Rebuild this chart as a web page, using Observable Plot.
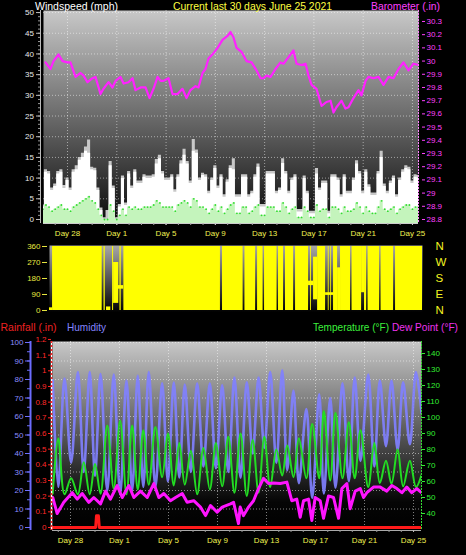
<!DOCTYPE html>
<html><head><meta charset="utf-8">
<script src="https://cdn.jsdelivr.net/npm/d3@7"></script>
<script src="https://cdn.jsdelivr.net/npm/@observablehq/plot@0.6"></script>
<style>
html,body{margin:0;padding:0;background:#000;}
#root{position:relative;width:466px;height:555px;background:#000;overflow:hidden;}
</style></head><body>
<div id="root">
<svg width="0" height="0" style="position:absolute;left:0;top:0"><defs>
<linearGradient id="g1" x1="0" y1="0" x2="0" y2="1"><stop offset="0" stop-color="#c8c8c8"/><stop offset="0.5" stop-color="#6a6a6a"/><stop offset="1" stop-color="#0a0a0a"/></linearGradient>
<linearGradient id="g2" x1="0" y1="0" x2="0" y2="1"><stop offset="0" stop-color="#a8a8a8"/><stop offset="1" stop-color="#000"/></linearGradient>
<linearGradient id="g3" x1="0" y1="0" x2="0" y2="1"><stop offset="0" stop-color="#c8c8c8"/><stop offset="0.45" stop-color="#606060"/><stop offset="0.85" stop-color="#050505"/><stop offset="1" stop-color="#000"/></linearGradient>
</defs></svg>
</div>
<script>
// ---------- data ----------
// time unit: days since May 26 2021 00:00
const DAY_TICKS = [2, 6, 10, 14, 18, 22, 26, 30];
const DAY_LABELS = ["Day 28", "Day 1", "Day 5", "Day 9", "Day 13", "Day 17", "Day 21", "Day 25"];
const WIND_TICKS = [0, 5, 10, 15, 20, 25, 30, 35, 40, 45, 50];
const BARO_TICKS = [28.8, 28.9, 29.0, 29.1, 29.2, 29.3, 29.4, 29.5, 29.6, 29.7, 29.8, 29.9, 30.0, 30.1, 30.2, 30.3];
const DIR_TICKS = [0, 90, 180, 270, 360];
const COMPASS = ["N", "E", "S", "W", "N"];
const HUM_TICKS = [0, 10, 20, 30, 40, 50, 60, 70, 80, 90, 100];
const RAIN_TICKS = [0, 0.1, 0.2, 0.3, 0.4, 0.5, 0.6, 0.7, 0.8, 0.9, 1.0, 1.1, 1.2];
const TEMP_TICKS = [40, 50, 60, 70, 80, 90, 100, 110, 120, 130, 140];

// wind, 6-hourly samples starting May 26 00:00
const WIND_START = 0, WIND_STEP = 0.25;
const windSpeed = [
 3, 11.4, 11, 7, 8, 11, 11.4, 7.5, 9.4, 7,
 11.4, 12, 14.3, 15, 16.5, 16, 12, 11.8, 7, 2.2,
 0, 0, 13, 7.5, 0, 3, 9.9, 3.4, 11, 7.5,
 11.4, 8.7, 8.7, 10.2, 9.9, 9.9, 10.2, 13.4, 14.7, 11,
 9.4, 9.4, 10.2, 6.6, 10.2, 13.4, 15.5, 13.4, 8.7, 16.5,
 16, 9.4, 10.6, 10.2, 6.2, 9.4, 12.3, 7.5, 10.2, 5.4,
 9, 12.3, 12, 5.4, 5.4, 10.2, 10.2, 5.4, 6.2, 10.2,
 12.6, 3, 3, 11, 11, 11, 6.2, 7, 13.5, 11,
 6.2, 9.4, 10.2, 1.8, 1.8, 9.9, 6.2, 1.4, 1.4, 11,
 7, 8.7, 8.7, 1.4, 10.2, 10.2, 9.4, 5.4, 10.2, 6.2,
 6.2, 9.4, 13.4, 11, 6.2, 11.4, 7.8, 5.8, 5.8, 11,
 15, 8, 6.2, 8.7, 9.9, 5.4, 9.4, 11.4, 12.3, 12,
 8.7, 10.2, 10];
const windGust = [
 3.5, 12, 11.6, 7.6, 8.6, 11.6, 12, 8.2, 10, 7.6,
 12, 13, 15, 16, 17.5, 19.2, 12.6, 12.4, 7.6, 2.8,
 0.4, 2.2, 14, 8.1, 0.4, 3.6, 10.5, 4, 11.6, 8.1,
 12, 9.3, 9.3, 10.8, 10.5, 10.5, 10.8, 14.5, 15.5, 11.6,
 10, 10, 10.8, 7.2, 10.8, 14.2, 17, 14, 9.3, 19.3,
 16.8, 10, 11.2, 10.8, 6.8, 10, 13, 8.1, 10.8, 6,
 9.6, 13, 14.7, 6, 6, 10.8, 10.8, 6, 6.8, 10.8,
 13.4, 3.6, 3.6, 11.6, 11.6, 11.6, 6.8, 7.6, 14.7, 11.6,
 6.8, 10, 10.8, 2.4, 2.4, 10.5, 6.8, 2, 2, 12.3,
 7.6, 9.3, 9.3, 2, 10.8, 10.8, 10, 6, 10.8, 6.8,
 6.8, 10, 14.2, 11.6, 6.8, 12, 8.4, 6.4, 6.4, 11.6,
 16.5, 8.6, 6.8, 9.3, 10.5, 6, 10, 12, 13, 12.6,
 9.3, 10.8, 10.6];
const windAvg = [
 2.5, 3.5, 3, 2, 2.5, 3, 3.5, 2.5, 2.5, 2,
 3, 3.5, 4, 4.5, 5, 5.5, 4.5, 4, 2.5, 1,
 0, 0, 3.5, 2, 0, 1, 2.5, 1, 3, 2.5,
 3, 2.5, 2.5, 3, 3, 3, 3.5, 4.5, 4, 3,
 3, 3, 3, 2, 3.5, 4, 4.5, 4, 3, 5,
 4.5, 3, 3, 2.5, 1.5, 2.5, 3.5, 2, 3, 1.5,
 2.5, 3.5, 4, 1.5, 1.5, 3, 3, 1.5, 2, 3,
 3.5, 1, 1, 3, 3, 3, 2, 2, 4, 3,
 1.5, 2.5, 3, 0.5, 0.5, 3, 2, 0.5, 0.5, 3.5,
 2, 2.5, 2.5, 0.5, 3, 3, 2.5, 1.5, 3, 2,
 2, 2.5, 4, 3, 1.5, 3, 2, 1.5, 1.5, 3,
 4.5, 2.5, 2, 2.5, 3, 1.5, 2.5, 3, 3.5, 3.5,
 2.5, 3, 3];

// barometer [day, inches]
const barometer = [
 [0.21,29.99],[0.62,29.94],[0.86,30.00],[1.27,30.05],[1.59,30.00],[2.0,29.99],[2.24,29.99],[2.65,29.88],
 [3.06,29.91],[3.30,29.89],[3.62,29.84],[4.03,29.87],[4.27,29.88],[4.68,29.75],[4.92,29.79],[5.33,29.84],
 [5.65,29.80],[5.90,29.85],[6.30,29.88],[6.55,29.83],[6.95,29.84],[7.28,29.87],[7.52,29.78],[7.93,29.80],
 [8.33,29.80],[8.66,29.72],[8.98,29.79],[9.31,29.88],[9.55,29.85],[9.79,29.85],[10.20,29.87],[10.52,29.75],
 [10.93,29.75],[11.33,29.79],[11.66,29.72],[11.98,29.78],[12.39,29.81],[12.63,29.80],[12.96,29.91],[13.20,29.94],
 [13.44,30.02],[13.85,30.06],[14.18,30.10],[14.58,30.16],[14.99,30.19],[15.23,30.22],[15.47,30.18],[15.72,30.10],
 [16.12,30.07],[16.53,30.00],[16.94,29.99],[17.34,29.93],[17.67,29.87],[17.91,29.87],[18.15,29.89],[18.48,29.88],
 [18.88,29.94],[19.29,29.99],[19.53,29.98],[19.94,30.03],[20.34,30.08],[20.59,29.98],[20.99,29.97],[21.32,29.98],
 [21.56,29.89],[21.81,29.82],[22.21,29.79],[22.62,29.66],[23.02,29.69],[23.35,29.70],[23.59,29.61],[23.83,29.65],
 [24.24,29.70],[24.56,29.64],[24.81,29.65],[25.21,29.72],[25.62,29.78],[25.86,29.74],[26.19,29.85],[26.43,29.88],
 [26.84,29.87],[27.24,29.88],[27.65,29.82],[28.06,29.88],[28.46,29.87],[28.87,29.94],[29.27,29.99],[29.68,29.93],
 [30.08,29.98],[30.49,29.97]];

// wind direction coverage [dayFrom, dayTo, degLow, degHigh]
const windDir = [
 [0.05,0.3,0,15],[0.3,4.35,0,360],[4.5,4.6,0,360],[4.7,5.05,0,20],[5.2,5.28,0,360],[5.28,5.7,40,270],
 [5.4,6.1,120,140],[5.8,5.9,0,360],[6.12,14.0,0,360],[14.17,15.85,0,360],[16.0,16.87,0,360],
 [17.03,17.48,0,360],[17.6,18.62,0,360],[18.74,19.15,0,360],[19.31,19.97,0,360],[20.13,21.19,0,360],
 [21.19,21.6,140,165],[21.35,21.42,0,360],[21.6,21.93,60,300],[21.93,22.58,0,360],[22.58,23.23,85,100],
 [22.8,22.87,0,360],[23.0,23.06,0,360],[23.23,23.56,0,360],[23.56,23.8,0,240],[23.8,24.62,0,360],
 [24.74,25.52,0,360],[25.52,25.76,100,360],[25.76,25.93,0,360],[26.05,26.99,0,360],[27.11,28.13,0,360],
 [28.29,30.49,0,360]];

// humidity [day, %]
const humidity = [
 [0.55,79.5],[1.0,22],[1.51,80.5],[2.05,35],[2.6,84],[3.08,30],[3.57,84],[4.0,28],[4.45,83],[5.0,20],
 [5.53,82.7],[6.05,18],[6.57,79.5],[7.03,20],[7.49,82],[7.94,22],[8.39,84],[8.93,22],[9.48,78],[9.95,25],
 [10.43,78.4],[10.88,27],[11.33,77.3],[11.83,30],[12.34,78],[12.85,33],[13.37,78],[13.87,32],[14.38,77],[14.88,30],
 [15.38,81],[15.88,27],[16.39,78.5],[16.87,40],[17.35,81],[17.82,43],[18.3,84],[18.8,35],[19.28,85],[19.69,31],
 [20.2,74],[20.64,24],[21.25,64],[21.73,16],[22.3,72],[22.68,18.4],[23.2,70],[23.63,21.6],[24.2,78],[24.72,25],
 [25.2,81],[25.67,36],[26.3,82.7],[26.8,33],[27.25,79.5],[27.75,44],[28.2,79.5],[28.7,42],[29.15,78.5],[29.7,45],
 [30.2,84],[30.65,62]];

// temperature [day, °F]
const temperature = [
 [0.55,52.5],[1.0,87],[1.51,52],[2.05,62],[2.6,52],[3.08,72],[3.57,52],[4.0,71],[4.45,52.3],[5.0,95],
 [5.53,55.6],[6.05,98],[6.57,52],[7.03,95],[7.49,55],[7.94,92],[8.39,58],[8.93,94],[9.48,62.7],[9.95,90],
 [10.43,57.5],[10.88,84],[11.33,58],[11.83,79],[12.34,52],[12.85,81],[13.37,55],[13.87,84],[14.38,57],[14.88,88],
 [15.38,53],[15.88,90],[16.39,51],[16.87,86],[17.35,53],[17.82,88],[18.3,56.5],[18.8,80],[19.28,63.7],[19.69,82.5],
 [20.2,62.7],[20.64,87],[21.25,62],[21.73,96],[22.3,62],[22.68,104],[23.2,60.6],[23.63,103],[24.2,62],[24.72,97],
 [25.2,62],[25.67,92],[26.3,56.5],[26.8,84],[27.25,59],[27.75,73],[28.2,58.5],[28.7,80],[29.15,57],[29.7,73],
 [30.2,56.5],[30.65,64]];

// dew point [day, °F]
const dewPoint = [
 [0.55,50],[0.91,40],[1.45,47],[2.14,53],[2.55,49],[2.95,52.5],[3.49,47],[3.9,50],[4.45,46],[4.86,54],
 [5.26,49],[5.81,57.5],[6.22,50],[6.76,57.5],[7.17,50],[7.71,54],[8.26,50],[8.8,58.7],[9.21,50],[9.62,52.5],
 [10.16,48],[10.57,50],[11.12,52.5],[11.52,47],[12.06,48],[12.61,44],[13.02,38.7],[13.43,45],[13.97,40.8],[14.38,44],
 [15.06,46],[15.31,47],[15.71,33.7],[15.85,44],[16.12,38.7],[16.53,44],[16.94,48],[17.35,55.6],[17.75,62],[18.16,58.7],
 [18.57,59],[19.12,58.7],[19.66,59.6],[20.06,48],[20.47,49],[20.75,37.7],[21.02,48],[21.43,49],[21.7,35.6],[21.97,50],
 [22.38,48],[22.65,37],[23.06,51],[23.47,50],[23.88,37],[24.15,55.6],[24.56,58.7],[24.83,43],[25.24,54],[25.65,55.6],
 [25.92,50],[26.19,53],[26.73,56.5],[27.28,56.5],[27.82,54],[28.23,57.5],[28.64,55.6],[29.05,53],[29.45,56.5],[29.86,53],
 [30.27,55.6],[30.65,53]];

// rainfall [day, inches]
const rainfall = [[0.53,0],[4.05,0],[4.12,0.075],[4.28,0.075],[4.35,0],[30.65,0]];

// ---------- drawing ----------
const root = document.getElementById("root");
const FONT = "Liberation Sans, Arial, sans-serif";
const baseStyle = {background: "transparent", fontFamily: FONT, fontSize: "8px", overflow: "visible"};
function place(el, top) {
  el.style.position = "absolute"; el.style.left = "0px"; el.style.top = top + "px";
  root.appendChild(el);
}
const dayFmt = d => DAY_LABELS[DAY_TICKS.indexOf(d)];
const grid = {stroke: "#ffffff", strokeOpacity: 0.5, strokeDasharray: "1,2"};
const dayMinor = d3.range(1, 31);

const wind = windSpeed.map((v, i) => ({t: WIND_START + i * WIND_STEP, speed: v, gust: windGust[i], avg: windAvg[i]}));

// Panel 1: wind speed
const X1 = [0.05, 30.49];
const W_MIN = -0.97;
place(Plot.plot({
  width: 466, height: 240, marginLeft: 43, marginRight: 48, marginTop: 10, marginBottom: 17,
  style: baseStyle,
  x: {domain: X1},
  y: {domain: [W_MIN, 50.5]},
  marks: [
    Plot.frame({fill: "url(#g1)", stroke: "none"}),
    Plot.ruleY(WIND_TICKS, grid),
    Plot.ruleX(DAY_TICKS, grid),
    Plot.areaY(wind, {x: "t", y1: W_MIN, y2: "gust", curve: "step", fill: "#c8c8c8", clip: true}),
    Plot.areaY(wind, {x: "t", y1: W_MIN, y2: "speed", curve: "step", fill: "#ffffff", clip: true}),
    Plot.areaY(wind, {x: "t", y1: W_MIN, y2: "avg", curve: "step", fill: "#c4f4bc", clip: true}),
    Plot.dot(wind, {x: "t", y: "avg", r: 0.9, fill: "#18d818", fillOpacity: 0.85, stroke: "none", clip: true}),
    Plot.ruleY([W_MIN], {stroke: "#cccccc"}),
    Plot.ruleX([X1[0]], {dx: -3, stroke: "#bbbbbb"}),
    Plot.axisY({anchor: "left", ticks: d3.range(0, 51, 1), tickSize: 2, tickFormat: () => "", dx: -3, stroke: "#999999", label: null}),
    Plot.axisY({anchor: "left", ticks: WIND_TICKS, tickSize: 4, tickPadding: 2.5, dx: -3, stroke: "#bbbbbb", fill: "#e8e8e8", fontSize: 8, label: null}),
    Plot.axisX({anchor: "bottom", ticks: dayMinor, tickSize: 2, tickFormat: () => "", stroke: "#aaaaaa", label: null}),
    Plot.axisX({anchor: "bottom", ticks: DAY_TICKS, tickFormat: dayFmt, tickSize: 2, tickPadding: 5, stroke: "#cccccc", fill: "#f0f050", fontSize: 8, label: null})
  ]
}), 0);

// Panel 1 overlay: barometer
place(Plot.plot({
  width: 466, height: 240, marginLeft: 43, marginRight: 48, marginTop: 10, marginBottom: 17,
  style: baseStyle,
  x: {domain: X1, axis: null},
  y: {domain: [28.7697, 30.383]},
  marks: [
    Plot.line(barometer, {x: d => d[0], y: d => d[1], stroke: "#ff22ff", strokeWidth: 2.2, clip: true}),
    Plot.ruleX([X1[1]], {stroke: "#ff88ff", strokeDasharray: "2,1"}),
    Plot.axisY({anchor: "right", ticks: BARO_TICKS, tickFormat: d => String(+d.toFixed(1)), tickSize: 3, tickPadding: 2, dx: 3, stroke: "#ff40ff", fill: "#ff40ff", fontSize: 8, label: null})
  ]
}), 0);

// Panel 2: wind direction
place(Plot.plot({
  width: 466, height: 80, marginLeft: 49, marginRight: 44, marginTop: 5, marginBottom: 8,
  style: baseStyle,
  x: {domain: X1, axis: null},
  y: {domain: [-11.25, 365.6]},
  marks: [
    Plot.frame({fill: "url(#g2)", stroke: "none"}),
    Plot.rect(windDir, {x1: d => d[0], x2: d => d[1], y1: d => d[2], y2: d => d[3], fill: "#ffff00", clip: true}),
    Plot.axisY({anchor: "left", ticks: DIR_TICKS, tickSize: 5, tickPadding: 2, dx: -2, stroke: "#e8e840", fill: "#e8e840", fontSize: 8, label: null}),
    Plot.axisY({anchor: "right", ticks: DIR_TICKS, tickFormat: d => COMPASS[DIR_TICKS.indexOf(d)], tickSize: 0, tickPadding: 13, fill: "#f4f420", fontSize: 11.5, label: null})
  ]
}), 240);

// Panel 3: humidity (base)
const X3 = [0.53, 30.65];
const H_MIN = -1.62;
place(Plot.plot({
  width: 466, height: 220, marginLeft: 52, marginRight: 45, marginTop: 6, marginBottom: 25,
  style: baseStyle,
  x: {domain: X3},
  y: {domain: [H_MIN, 100.54]},
  marks: [
    Plot.frame({fill: "url(#g3)", stroke: "none"}),
    Plot.ruleY(HUM_TICKS.slice(1), grid),
    Plot.ruleX(DAY_TICKS, grid),
    Plot.line(humidity, {x: d => d[0], y: d => d[1], stroke: "#8080ff", strokeOpacity: 0.92, strokeWidth: 2.6, curve: "catmull-rom", clip: true}),
    Plot.ruleY([H_MIN], {stroke: "#aaaaaa"}),
    Plot.ruleX([X3[0]], {dx: -22, stroke: "#6c6cff", strokeWidth: 2}),
    Plot.axisY({anchor: "left", ticks: d3.range(0, 101, 5), tickSize: 3, tickFormat: () => "", dx: -22, stroke: "#7070ff", label: null}),
    Plot.axisY({anchor: "left", ticks: HUM_TICKS, tickSize: 5, tickPadding: 2, dx: -22, stroke: "#7070ff", fill: "#8c8cff", fontSize: 8, label: null}),
    Plot.axisX({anchor: "bottom", ticks: dayMinor, tickSize: 2, tickFormat: () => "", stroke: "#999999", label: null}),
    Plot.axisX({anchor: "bottom", ticks: DAY_TICKS, tickFormat: dayFmt, tickSize: 2, tickPadding: 5, stroke: "#bbbbbb", fill: "#f0f050", fontSize: 8, label: null})
  ]
}), 335);

// Panel 3 overlay: temperature & dew point
place(Plot.plot({
  width: 466, height: 220, marginLeft: 52, marginRight: 45, marginTop: 6, marginBottom: 25,
  style: baseStyle,
  x: {domain: X3, axis: null},
  y: {domain: [29.375, 147.5]},
  marks: [
    Plot.line(temperature, {x: d => d[0], y: d => d[1], stroke: "#22dd22", strokeWidth: 2, curve: "catmull-rom", clip: true}),
    Plot.line(dewPoint, {x: d => d[0], y: d => d[1], stroke: "#ff14ff", strokeWidth: 3, clip: true}),
    Plot.ruleX([X3[1]], {stroke: "#33dd33", strokeDasharray: "2,1"}),
    Plot.axisY({anchor: "right", ticks: TEMP_TICKS, tickSize: 3, tickPadding: 2, stroke: "#33ee33", fill: "#33ee33", fontSize: 8, label: null})
  ]
}), 335);

// Panel 3 overlay: rainfall
place(Plot.plot({
  width: 466, height: 220, marginLeft: 52, marginRight: 45, marginTop: 6, marginBottom: 25,
  style: baseStyle,
  x: {domain: X3, axis: null},
  y: {domain: [-0.0191, 1.187]},
  marks: [
    Plot.line(rainfall, {x: d => d[0], y: d => d[1], stroke: "#ff1a1a", strokeWidth: 3, clip: true}),
    Plot.ruleX([X3[0]], {dx: -1, stroke: "#ffffff", strokeWidth: 1.5}),
    Plot.ruleX([X3[0]], {dx: -1, stroke: "#ff2020", strokeWidth: 1.5, strokeDasharray: "2,2"}),
    Plot.axisY({anchor: "left", ticks: RAIN_TICKS, tickFormat: d => String(+d.toFixed(1)), tickSize: 3, tickPadding: 2, dx: -1, stroke: "#ff2020", fill: "#ff2a2a", fontSize: 8, label: null})
  ]
}), 335);

// Titles
const TITLES = [
  ["Windspeed (mph)", 35, 10.3, 83, "#ffffff"],
  ["Current last 30 days June 25 2021", 173, 10.3, 159, "#ffff40"],
  ["Barometer (.in)", 371, 10.3, 69, "#ff40ff"],
  ["Rainfall (.in)", 0.5, 330.7, 56, "#ee2222"],
  ["Humidity", 67, 330.7, 39, "#8484ff"],
  ["Temperature (°F)", 313, 330.7, 76, "#3cf03c"],
  ["Dew Point (°F)", 392, 330.7, 66, "#ee33ee"]
];
const ns = "http://www.w3.org/2000/svg";
const tsvg = document.createElementNS(ns, "svg");
tsvg.setAttribute("width", 466); tsvg.setAttribute("height", 555);
tsvg.style.position = "absolute"; tsvg.style.left = "0px"; tsvg.style.top = "0px";
for (const [txt, x, y, w, c] of TITLES) {
  const t = document.createElementNS(ns, "text");
  t.setAttribute("x", x); t.setAttribute("y", y);
  t.setAttribute("textLength", w); t.setAttribute("lengthAdjust", "spacingAndGlyphs");
  t.setAttribute("fill", c); t.setAttribute("font-family", FONT); t.setAttribute("font-size", "11px");
  t.textContent = txt;
  tsvg.appendChild(t);
}
root.appendChild(tsvg);
</script>
</body></html>
